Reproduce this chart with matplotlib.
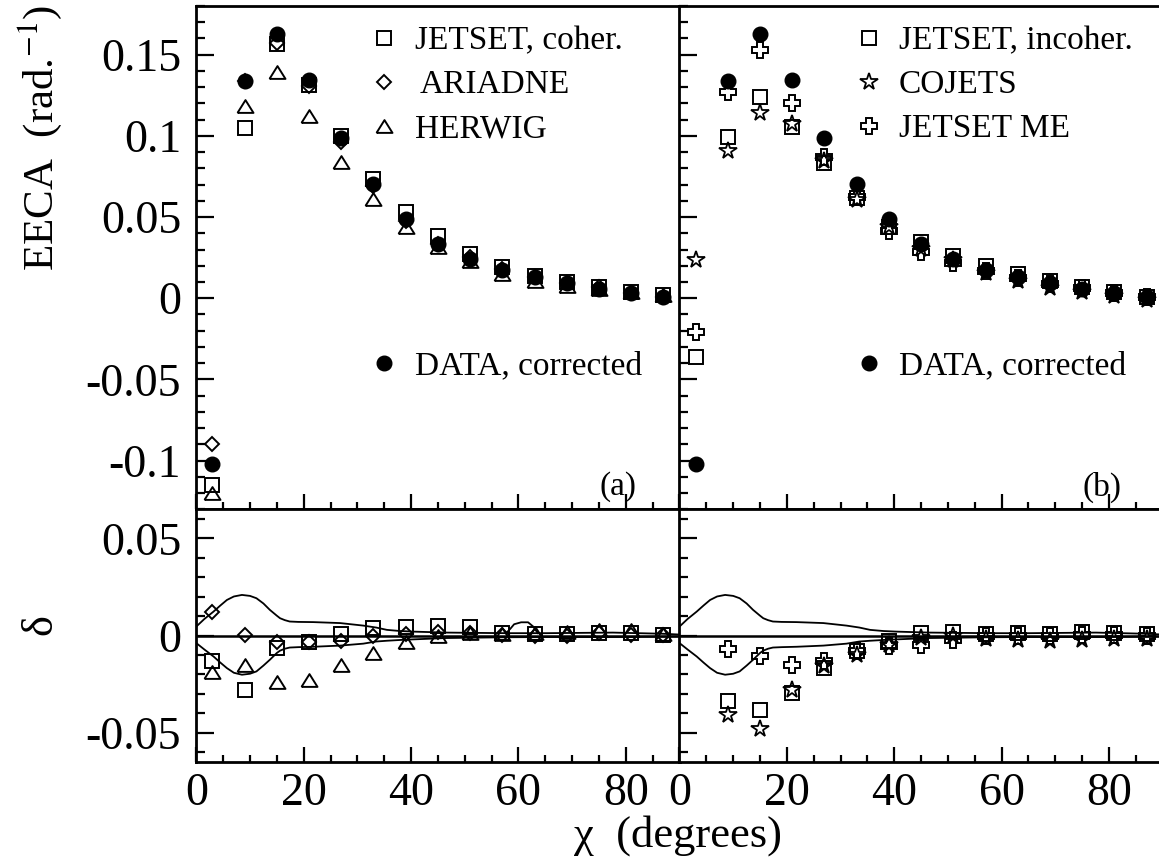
import numpy as np
import matplotlib.pyplot as plt
from matplotlib.ticker import MultipleLocator, FuncFormatter

plt.rcParams['font.family'] = ['Liberation Serif', 'DejaVu Serif']
plt.rcParams['mathtext.fontset'] = 'stix'
plt.rcParams['axes.unicode_minus'] = False

# bin centres (degrees)
chi = [3, 9, 15, 21, 27, 33, 39, 45, 51, 57, 63, 69, 75, 81, 87]

# EECA values
data = [-0.102, 0.1335, 0.163, 0.1345, 0.099, 0.0703, 0.0488, 0.0334, 0.0242,
        0.0175, 0.0129, 0.0092, 0.0058, 0.0031, 0.0006]
jetset_coh = [-0.115, 0.105, 0.1565, 0.1314, 0.100, 0.0734, 0.0529, 0.0386, 0.0273,
              0.019, 0.014, 0.0098, 0.0068, 0.0037, 0.0017]
ariadne = [-0.0896, 0.1335, 0.1575, 0.131, 0.096, 0.0693, 0.0478, 0.0334, 0.0257,
           0.0178, 0.0128, 0.0091, 0.007, 0.0034, 0.0009]
herwig = [-0.12, 0.1185, 0.1396, 0.1124, 0.0837, 0.0611, 0.0441, 0.0314, 0.0232,
          0.015, 0.0109, 0.0078, 0.0058, 0.0037, 0.0017]
jetset_incoh = [-0.0363, 0.0994, 0.124, 0.1056, 0.0836, 0.0617, 0.0437, 0.0344, 0.0263,
                0.0201, 0.015, 0.0109, 0.0068, 0.0041, 0.0006]
cojets = [0.0236, 0.0908, 0.1144, 0.1073, 0.0847, 0.0605, 0.0437, 0.0304, 0.0237,
          0.0156, 0.0107, 0.0066, 0.0036, 0.0012, -0.0013]
jetset_me = [-0.0209, 0.1273, 0.1528, 0.1205, 0.0867, 0.0621, 0.0416, 0.0283, 0.022,
             0.017, 0.0124, 0.009, 0.0061, 0.0034, 0.0006]

# differences delta = MC - DATA (nan = off scale)
d_jetset_coh = [-0.0133, -0.0282, -0.0063, -0.0034, 0.0009, 0.0038, 0.0046, 0.0051,
                0.0046, 0.0012, 0.0009, 0.0009, 0.0015, 0.0012, 0.0003]
d_ariadne = [0.0123, 0.0004, -0.0034, -0.0034, -0.0026, -0.0005, 0.0009, 0.002,
             0.0015, 0.0003, -0.0001, -0.0001, 0.0012, 0.0003, 0.0003]
d_herwig = [-0.019, -0.015, -0.0238, -0.023, -0.015, -0.0088, -0.0035, -0.0005,
            0.0012, 0.0009, 0.0015, 0.002, 0.0026, 0.0026, 0.0009]
d_jetset_incoh = [np.nan, -0.0335, -0.0385, -0.0296, -0.0167, -0.0082, -0.003, 0.0012,
                  0.002, 0.0009, 0.0012, 0.0009, 0.002, 0.0015, 0.0009]
d_cojets = [np.nan, -0.0412, -0.0484, -0.0279, -0.0159, -0.0099, -0.005, -0.0014,
            -0.0005, -0.0019, -0.0022, -0.0026, -0.0022, -0.0019, -0.0019]
d_jetset_me = [np.nan, -0.007, -0.0104, -0.015, -0.0133, -0.0082, -0.0056, -0.0048,
               -0.0022, -0.0005, -0.0005, -0.0002, 0.0003, 0.0003, -0.0002]

# error band of the data
band_x = [0, 1.5, 3.2, 4.5, 5.7, 7, 8.5, 10, 11.2, 12.5, 13.7, 15, 15.6, 16.5, 17.4,
          19, 21.8, 26.8, 31.1, 33.5, 35.5, 38, 40.4, 46.6, 57.8, 65.2, 77.6, 86.9, 90]
band_up = [0.0046, 0.0085, 0.0123, 0.0155, 0.0183, 0.0201, 0.0209, 0.0204, 0.0192,
           0.0165, 0.0132, 0.0102, 0.0089, 0.0079, 0.0072, 0.007, 0.0069, 0.0064,
           0.0051, 0.0041, 0.0029, 0.0023, 0.002, 0.0015, 0.0012, 0.0012, 0.0015,
           0.0009, 0.0005]
band_lo = [-0.0039, -0.0072, -0.0108, -0.014, -0.0168, -0.0192, -0.0202, -0.0197,
           -0.0185, -0.0155, -0.0125, -0.009, -0.0078, -0.0068, -0.0062, -0.006,
           -0.0058, -0.0052, -0.0042, -0.0031, -0.0027, -0.0023, -0.002, -0.0013,
           -0.0009, -0.0008, -0.0008, -0.0006, -0.0005]
curl_x = [57.8, 58.5, 59.2, 60.5, 61.8, 62.8, 63.6]
curl_y = [0.0015, 0.0035, 0.0058, 0.0068, 0.0068, 0.0045, 0.0012]

W, H = 1159, 863
fig = plt.figure(figsize=(W / 100, H / 100), dpi=100)

x0a, x0b, x1 = 196.3, 679.5, 1162.7
ytop, ymid, ybot = 6, 509.3, 761.7


def axes_px(left, right, top, bottom):
    return fig.add_axes([left / W, 1 - bottom / H, (right - left) / W, (bottom - top) / H])


ax_a = axes_px(x0a, x0b, ytop, ymid)
ax_b = axes_px(x0b, x1, ytop, ymid)
dx_a = axes_px(x0a, x0b, ymid, ybot)
dx_b = axes_px(x0b, x1, ymid, ybot)

fmt = FuncFormatter(lambda v, p: '%g' % (round(v, 3) + 0.0))

for ax in (ax_a, ax_b, dx_a, dx_b):
    ax.set_xlim(0, 90)
    ax.xaxis.set_major_locator(MultipleLocator(20))
    ax.xaxis.set_minor_locator(MultipleLocator(5))
    ax.yaxis.set_major_locator(MultipleLocator(0.05))
    ax.yaxis.set_minor_locator(MultipleLocator(0.01))
    ax.yaxis.set_major_formatter(fmt)
    ax.tick_params(which='both', direction='in', top=False, right=False,
                   width=1.6, labelsize=33)
    ax.tick_params(axis='y', which='major', length=13, pad=11)
    ax.tick_params(axis='y', which='minor', length=6.5)
    ax.tick_params(axis='x', which='major', length=11, pad=8)
    ax.tick_params(axis='x', which='minor', length=5)
    for s in ax.spines.values():
        s.set_linewidth(2)

for ax in (ax_a, ax_b):
    ax.set_ylim(-0.13, 0.18)
    ax.tick_params(axis='x', labelbottom=False)
for ax in (dx_a, dx_b):
    ax.set_ylim(-0.065, 0.065)
for ax in (ax_b, dx_b):
    ax.tick_params(axis='y', labelleft=False)

tri = [(-1, -0.8), (1, -0.8), (0, 0.8), (-1, -0.8)]
st_sq = dict(marker='s', ms=10, mfc='none', mec='k', mew=1.4, ls='none')
st_di = dict(marker='D', ms=7, mfc='none', mec='k', mew=1.4, ls='none')
st_tr = dict(marker=tri, ms=11.5, mfc='none', mec='k', mew=1.4, ls='none')
st_st = dict(marker='*', ms=13, mfc='none', mec='k', mew=1.3, ls='none')
st_pl = dict(marker='P', ms=11, mfc='none', mec='k', mew=1.4, ls='none')
st_da = dict(marker='o', ms=10.5, mfc='k', mec='k', mew=1, ls='none')

ax_a.plot(chi, data, **st_da)
ax_a.plot(chi, jetset_coh, **st_sq)
ax_a.plot(chi, ariadne, **st_di)
ax_a.plot(chi, herwig, **st_tr)

ax_b.plot(chi, data, **st_da)
ax_b.plot(chi, jetset_incoh, **st_sq)
ax_b.plot(chi, cojets, **st_st)
ax_b.plot(chi, jetset_me, **st_pl)

for ax in (dx_a, dx_b):
    ax.axhline(0, color='k', lw=1.8)
    ax.plot(band_x, band_up, color='k', lw=1.3)
    ax.plot(band_x, band_lo, color='k', lw=1.3)
dx_a.plot(curl_x, curl_y, color='k', lw=1.3)

dx_a.plot(chi, d_jetset_coh, **st_sq)
dx_a.plot(chi, d_ariadne, **st_di)
dx_a.plot(chi, d_herwig, **st_tr)

dx_b.plot(chi, d_jetset_incoh, **st_sq)
dx_b.plot(chi, d_cojets, **st_st)
dx_b.plot(chi, d_jetset_me, **st_pl)


# hand-placed legends (figure pixel positions)
def key(ax, left, px, py, style, label, tx):
    bx = (px - left) / (x0b - x0a)
    by = (ymid - py) / (ymid - ytop)
    ax.plot([bx], [by], transform=ax.transAxes, clip_on=False, **style)
    ax.text((tx - left) / (x0b - x0a), (ymid - py - 11) / (ymid - ytop), label,
            transform=ax.transAxes, fontsize=24, ha='left', va='baseline')


key(ax_a, x0a, 384, 38, st_sq, 'JETSET, coher.', 415)
key(ax_a, x0a, 384, 82, st_di, 'ARIADNE', 420)
key(ax_a, x0a, 384, 126, st_tr, 'HERWIG', 415)
key(ax_a, x0a, 384, 363, st_da, 'DATA, corrected', 415)

key(ax_b, x0b, 869, 38, st_sq, 'JETSET, incoher.', 899)
key(ax_b, x0b, 869, 82, st_st, 'COJETS', 899)
key(ax_b, x0b, 869, 126, st_pl, 'JETSET ME', 899)
key(ax_b, x0b, 869, 363, st_da, 'DATA, corrected', 899)

fig.text(618 / W, 1 - 487 / H, '(a)', fontsize=24, ha='center', va='center')
fig.text(1102 / W, 1 - 487 / H, '(b)', fontsize=24, ha='center', va='center')

fig.text(40 / W, 1 - 138 / H, r'EECA  (rad.$^{{-}1}$)', fontsize=31,
         rotation=90, ha='center', va='center')
fig.text(40 / W, 1 - 625 / H, 'δ', fontsize=32, rotation=90, ha='center', va='center')
fig.text(678 / W, 1 - 836 / H, 'χ  (degrees)', fontsize=32, ha='center', va='center')

fig.savefig('out.png', dpi=100)
